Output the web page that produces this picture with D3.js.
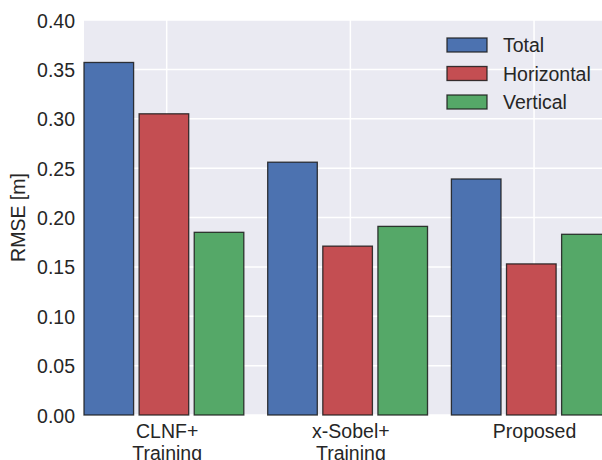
<!DOCTYPE html>
<html>
<head>
<meta charset="utf-8">
<script src="https://cdnjs.cloudflare.com/ajax/libs/d3/7.8.5/d3.min.js"></script>
<style>
    body { margin: 0; background: #fff; }
    svg { display: block; font-family: "Liberation Sans", Arial, sans-serif; }
    .tick text { fill: #262626; font-size: 19.5px; }
    .axis-label { fill: #262626; font-size: 19.5px; }
    .legend text { fill: #262626; font-size: 19.5px; }
</style>
</head>
<body>
<svg id="chart" width="602" height="460"></svg>
<script>
// data
const groups = [['CLNF+', 'Training'], ['x-Sobel+', 'Training'], ['Proposed']];
const seriesNames = ['Total', 'Horizontal', 'Vertical'];
const seriesColors = ['#4C72B0', '#C44E52', '#55A868'];
const total = [0.357, 0.256, 0.239];
const horizontal = [0.305, 0.171, 0.153];
const vertical = [0.185, 0.191, 0.183];
const yTicks = [0, 0.05, 0.10, 0.15, 0.20, 0.25, 0.30, 0.35, 0.40];

const series = [total, horizontal, vertical];

const svg = d3.select('#chart');
const DIM = { left: 84, top: 20, bottom: 415, unit: 183.7 };

const x = d3.scaleLinear()
    .domain([0, 1])
    .range([DIM.left, DIM.left + DIM.unit]);
const y = d3.scaleLinear()
    .domain([0, 0.4])
    .range([DIM.bottom, DIM.top]);

const barStep = 0.3, barWidth = 0.27, tickOffset = 0.45;

// background
svg.append('rect')
    .attr('x', DIM.left)
    .attr('y', DIM.top)
    .attr('width', 620 - DIM.left)
    .attr('height', DIM.bottom - DIM.top)
    .attr('fill', '#EAEAF2');

// grid
svg.append('g')
    .selectAll('line.h')
    .data(yTicks)
    .join('line')
    .attr('x1', DIM.left).attr('x2', 620)
    .attr('y1', d => y(d)).attr('y2', d => y(d))
    .attr('stroke', '#fff').attr('stroke-width', 1.5);
svg.append('g')
    .selectAll('line.v')
    .data(groups)
    .join('line')
    .attr('x1', (d, i) => x(i + tickOffset)).attr('x2', (d, i) => x(i + tickOffset))
    .attr('y1', DIM.top).attr('y2', DIM.bottom)
    .attr('stroke', '#fff').attr('stroke-width', 1.5);

// bars
const bars = [];
series.forEach((vals, k) => vals.forEach((v, i) => bars.push({ i, k, v })));
svg.append('g')
    .selectAll('rect')
    .data(bars)
    .join('rect')
    .attr('x', d => x(d.i + d.k * barStep))
    .attr('width', d => x(barWidth) - x(0))
    .attr('y', d => y(d.v))
    .attr('height', d => y(0) - y(d.v))
    .attr('fill', d => seriesColors[d.k])
    .attr('stroke', '#1a1a1a')
    .attr('stroke-opacity', 0.85)
    .attr('stroke-width', 1.3);

// y axis
const yAxis = d3.axisLeft(y)
    .tickValues(yTicks)
    .tickFormat(d3.format('.2f'))
    .tickSize(0)
    .tickPadding(9);
const yg = svg.append('g')
    .attr('transform', `translate(${DIM.left},0)`)
    .call(yAxis);
yg.select('.domain').remove();
yg.selectAll('.tick text').attr('dy', '0.36em');

// x axis, two-line labels
const xAxis = d3.axisBottom(x)
    .tickValues(groups.map((d, i) => i + tickOffset))
    .tickFormat('')
    .tickSize(0);
const xg = svg.append('g')
    .attr('transform', `translate(0,${DIM.bottom})`)
    .call(xAxis);
xg.select('.domain').remove();
xg.selectAll('.tick text')
    .attr('y', null)
    .attr('dy', null)
    .each(function (d, i) {
        const t = d3.select(this);
        groups[i].forEach((line, j) => {
            t.append('tspan')
                .attr('x', 0)
                .attr('y', 23 + j * 21.5)
                .text(line);
        });
    });

svg.append('text')
    .attr('class', 'axis-label')
    .attr('transform', `translate(25, ${(DIM.top + DIM.bottom) / 2}) rotate(-90)`)
    .attr('text-anchor', 'middle')
    .text('RMSE [m]');

// legend
const legend = svg.append('g').attr('class', 'legend')
    .attr('transform', 'translate(447, 45)');
const items = legend.selectAll('g')
    .data(seriesNames)
    .join('g')
    .attr('transform', (d, i) => `translate(0, ${i * 28.5})`);
items.append('rect')
    .attr('x', 0).attr('y', -7)
    .attr('width', 40).attr('height', 14)
    .attr('fill', (d, i) => seriesColors[i])
    .attr('stroke', '#1a1a1a')
    .attr('stroke-opacity', 0.85)
    .attr('stroke-width', 1.3);
items.append('text')
    .attr('x', 56)
    .attr('dy', '0.36em')
    .text(d => d);
</script>
</body>
</html>
